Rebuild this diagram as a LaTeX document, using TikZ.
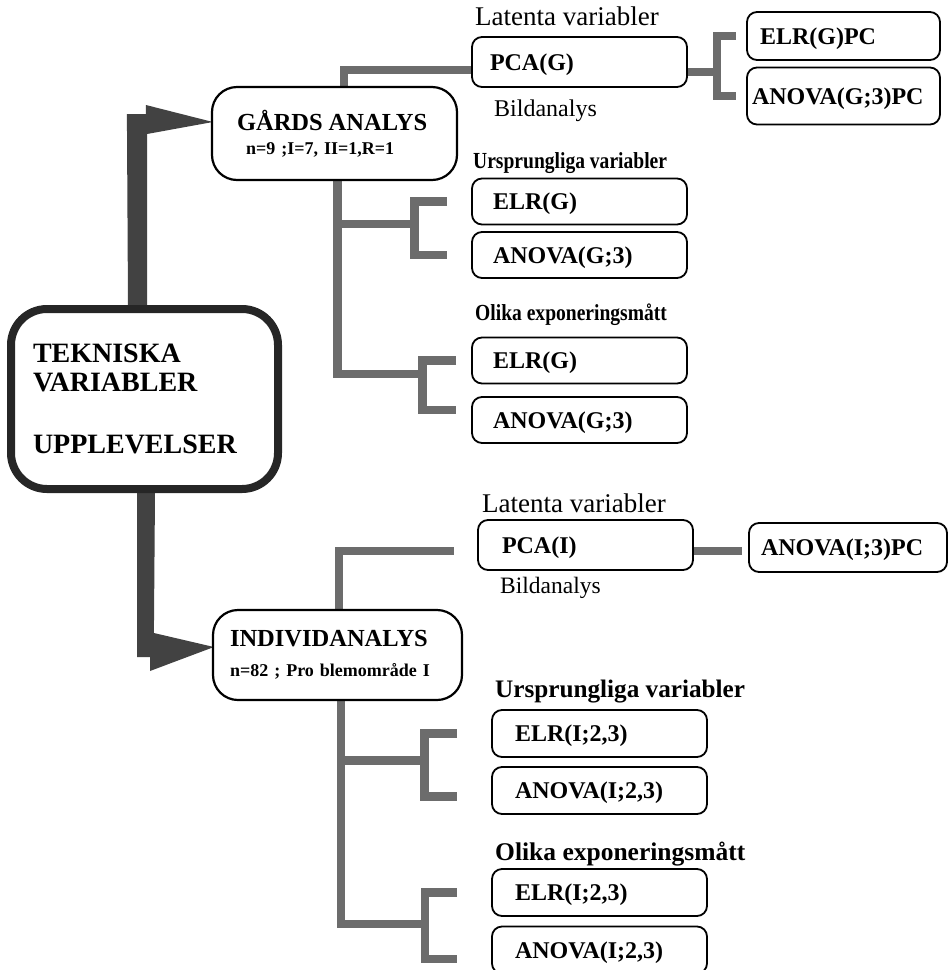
\documentclass[tikz,border=0pt]{standalone}
\usepackage{fontspec}
\setmainfont{Liberation Serif}
\newfontfamily\smalfont[FakeStretch=0.85]{Liberation Serif}
\usetikzlibrary{calc,backgrounds}
\definecolor{lina}{RGB}{108,108,108}
\definecolor{pil}{RGB}{66,66,66}

\begin{document}
\begin{tikzpicture}[x=1pt, y=-1pt,
    box/.style={draw, line width=1.8pt, rounded corners=10pt, align=left, inner ysep=0pt,
      inner xsep=21pt, text width=173pt, minimum height=46pt, text height=16pt, text depth=0pt,
      font=\fontsize{24}{24}\selectfont\bfseries},
    hub/.style={draw, line width=2.2pt, rounded corners=25pt, align=left, inner ysep=0pt},
    lbl/.style={anchor=base west, inner sep=0pt},
    conn/.style={draw=lina, line width=8.5pt},
    arr/.style={fill=pil}]
  \useasboundingbox (0,0) rectangle (949,970);
  \clip (0,0) rectangle (949,970);
  % huvudruta
  \node[draw=black!85, line width=8pt, rounded corners=36pt, align=left, minimum width=267pt,
    minimum height=180pt, inner xsep=22pt, text width=223pt, font=\fontsize{28}{29}\selectfont\bfseries]
    (tek) at (144.5,399) {TEKNISKA\\VARIABLER\\[33pt]UPPLEVELSER};
  % de två analysnivåerna
  \node[hub, minimum width=245pt, minimum height=93pt, inner xsep=25pt, text width=195pt,
    font=\fontsize{18}{24}\selectfont\bfseries] (gard) at (334.5,133.5)
    {{\fontsize{24.5}{24}\selectfont GÅRDS ANALYS}\\\hspace*{9pt}n=9 ;I=7, II=1,R=1};
  \node[hub, minimum width=249pt, minimum height=90pt, inner xsep=17pt, text width=215pt,
    font=\fontsize{18}{30}\selectfont\bfseries] (ind) at (337.5,655)
    {{\fontsize{24.5}{30}\selectfont INDIVIDANALYS}\\n=82 ; Pro blemområde I};
  % gårdsnivå
  \node[box, text width=179pt, inner xsep=18pt, minimum height=50pt] (pcag) at (579.5,62) {PCA(G)};
  \node[box, text width=167pt, inner xsep=13pt, minimum height=48pt] (elrgpc) at (843.5,36) {ELR(G)PC};
  \node[box, text width=183pt, inner xsep=5pt, minimum height=57pt] (anovagpc) at (843.5,96) {ANOVA(G;3)PC};
  \foreach \n/\y/\t in {elrg1/201.5/ELR(G), anovag1/255/ANOVA(G;3), elrg2/360.5/ELR(G), anovag2/420/ANOVA(G;3)}
    \node[box] (\n) at (579.5,\y) {\t};
  % individnivå
  \node[box, text width=167pt, inner xsep=24pt, minimum height=50pt] (pcai) at (585.5,545) {PCA(I)};
  \node[box, text width=174pt, inner xsep=12pt, minimum height=49pt] (anovaipc) at (848,547.5) {ANOVA(I;3)PC};
  \foreach \n/\y/\t in {elri1/733.5/{ELR(I;2,3)}, anovai1/790.5/{ANOVA(I;2,3)}, elri2/892.5/{ELR(I;2,3)}, anovai2/950/{ANOVA(I;2,3)}}
    \node[box, inner xsep=23pt, text width=169pt, minimum height=47pt] (\n) at (599.5,\y) {\t};
  % rubriker
  \node[lbl, font=\fontsize{27}{27}\selectfont] (latg) at (475,25) {Latenta variabler};
  \node[lbl, font=\fontsize{24}{24}\selectfont] (bildg) at (494,116) {Bildanalys};
  \node[lbl, font=\smalfont\fontsize{23}{24}\selectfont\bfseries] (ursg) at (473,168) {Ursprungliga variabler};
  \node[lbl, font=\smalfont\fontsize{23}{24}\selectfont\bfseries] (olig) at (475,320) {Olika exponeringsmått};
  \node[lbl, font=\fontsize{27}{27}\selectfont] (lati) at (482,512) {Latenta variabler};
  \node[lbl, font=\fontsize{23.5}{24}\selectfont] (bildi) at (500,593) {Bildanalys};
  \node[lbl, font=\fontsize{25.2}{26}\selectfont\bfseries] (ursi) at (495,697) {Ursprungliga variabler};
  \node[lbl, font=\fontsize{25.5}{26}\selectfont\bfseries] (olii) at (495,860) {Olika exponeringsmått};
  \begin{scope}[on background layer]
    % gård: latenta variabler
    \draw[conn] ([xshift=9.5pt]gard.north) |- ([yshift=-8pt]pcag.west);
    \draw[conn] ([yshift=-10pt]pcag.east) -- ++(31,0);
    \draw[conn] ([xshift=-10pt]elrgpc.west) -- ++(-19,0) |- ([xshift=-10pt]anovagpc.west);
    % gård: ursprungliga variabler och exponeringsmått
    \draw[conn] ([xshift=-24pt]elrg1.west) -- ++(-32.5,0) coordinate (g1) |- ([xshift=-24pt]anovag1.west);
    \draw[conn] ([xshift=-15pt]elrg2.west) -- ++(-33.5,0) coordinate (g2) |- ([xshift=-15pt,yshift=10pt]anovag2.west);
    \draw[conn] ($(g1)+(0,22.5)$) -| ([xshift=3pt]gard.south);
    \draw[conn] ($(g2)+(0,13.5)$) -| ([xshift=3pt]gard.south);
    % individ: latenta variabler
    \draw[conn] ([xshift=1.5pt]ind.north) |- ([xshift=-23pt,yshift=-6pt]pcai.west);
    \draw[conn] ([yshift=-6pt]pcai.east) -- ([xshift=-6pt,yshift=-3.5pt]anovaipc.west);
    % individ: ursprungliga variabler och exponeringsmått
    \draw[conn] ([xshift=-34pt]elri1.west) -- ++(-32.5,0) coordinate (i1) |- ([xshift=-34pt,yshift=-6pt]anovai1.west);
    \draw[conn] ([xshift=-34pt]elri2.west) -- ++(-32,0) coordinate (i2) |- ([xshift=-34pt,yshift=-9pt]anovai2.west);
    \draw[conn] ($(i1)+(0,27)$) -| ([xshift=3.5pt]ind.south);
    \draw[conn] ($(i2)+(0,31.5)$) -| ([xshift=3.5pt]ind.south);
    % tjocka pilar från huvudrutan
    \fill[arr] ([xshift=2pt,yshift=11.5pt]gard.west) -- ++(-67,-17) -- ++(0,9) -- ++(-19,0)
      -- ([xshift=-16.5pt]tek.north) -- ([xshift=2.5pt]tek.north) -- ++(0,-171) -- cycle;
    \fill[arr] ([xshift=-7.5pt]tek.south) -- ++(0,164) -- ++(13,0) -- ++(0,14)
      -- ([xshift=2pt,yshift=8pt]ind.west) -- ++(-60,-14) -- ([xshift=10.5pt]tek.south) -- cycle;
  \end{scope}
\end{tikzpicture}
\end{document}
